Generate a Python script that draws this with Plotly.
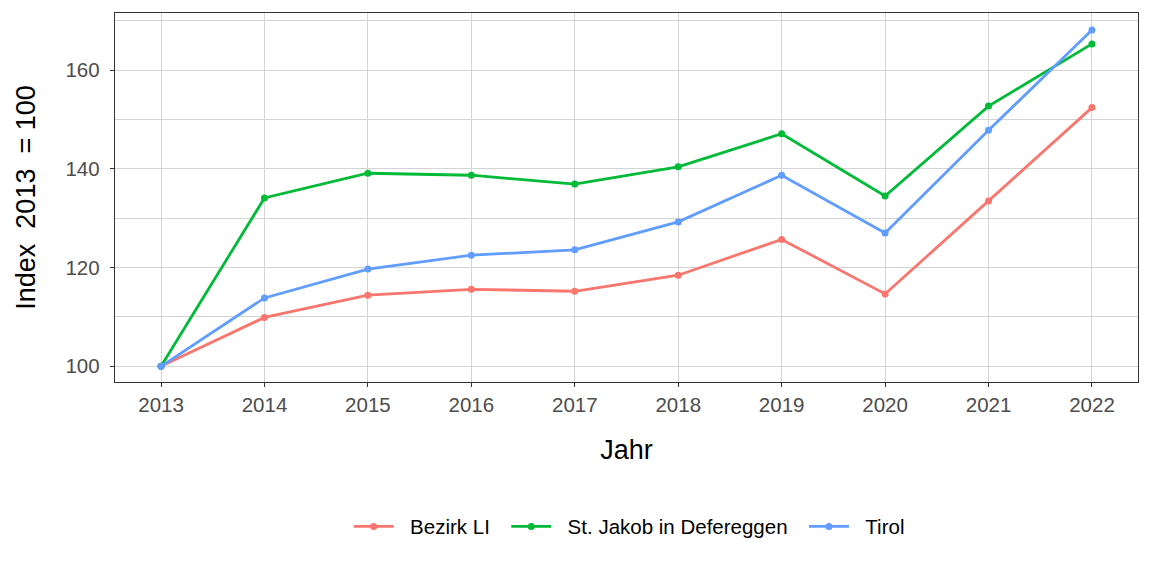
import plotly.graph_objects as go

years = [2013, 2014, 2015, 2016, 2017, 2018, 2019, 2020, 2021, 2022]
bezirk_li = [100, 109.9, 114.4, 115.6, 115.2, 118.45, 125.7, 114.66, 133.5, 152.4]
st_jakob = [100, 134.1, 139.1, 138.7, 136.9, 140.4, 147.1, 134.5, 152.7, 165.3]
tirol = [100, 113.85, 119.7, 122.5, 123.6, 129.25, 138.7, 127.0, 147.8, 168.1]

series = [
    ("Bezirk LI", bezirk_li, "#F8766D"),
    ("St. Jakob in Defereggen", st_jakob, "#00BA38"),
    ("Tirol", tirol, "#619CFF"),
]

NB = "\u00a0"
fig = go.Figure()
for name, vals, col in series:
    fig.add_trace(go.Scatter(
        x=years, y=vals, name=NB * 2 + name + NB * 2, mode="lines+markers",
        line=dict(color=col, width=2.8),
        marker=dict(color=col, size=7),
    ))

font_family = "Arial, Liberation Sans, sans-serif"
grid = "#D4D4D4"
fig.update_layout(
    width=1152, height=576,
    paper_bgcolor="white", plot_bgcolor="white",
    margin=dict(l=115, r=14, t=13, b=194),
    font=dict(family=font_family, color="black"),
    showlegend=True,
    legend=dict(orientation="h", x=0.5085, xanchor="center", y=-0.392, yanchor="middle",
                font=dict(size=20.5, color="black"), itemwidth=40, bgcolor="rgba(0,0,0,0)"),
    xaxis=dict(
        range=[2012.555, 2022.445], tickmode="array", tickvals=years,
        ticktext=[str(y) for y in years],
        showgrid=True, gridcolor=grid, gridwidth=1,
        ticks="outside", ticklen=4, tickcolor="#333333", tickwidth=1,
        tickfont=dict(size=20.5, color="#4D4D4D"),
        showline=True, linecolor="#333333", linewidth=1.4, mirror=True,
        zeroline=False,
        title=dict(text="Jahr", font=dict(size=27, color="black"), standoff=25),
    ),
    yaxis=dict(
        range=[96.82, 171.56], tickmode="array", tickvals=[100, 120, 140, 160],
        showgrid=True, gridcolor=grid, gridwidth=1,
        minor=dict(tickmode="array", tickvals=[110, 130, 150, 170], showgrid=True,
                   gridcolor=grid, gridwidth=0.7, ticks=""),
        ticks="outside", ticklen=4, tickcolor="#333333", tickwidth=1,
        tickfont=dict(size=20.5, color="#4D4D4D"),
        ticklabelstandoff=6,
        showline=True, linecolor="#333333", linewidth=1.4, mirror=True,
        zeroline=False,
        title=dict(text="Index" + NB * 2 + "2013" + NB * 2 + "=" + NB + "100",
                   font=dict(size=27, color="black"), standoff=22),
    ),
)

fig.write_html("out.html")
